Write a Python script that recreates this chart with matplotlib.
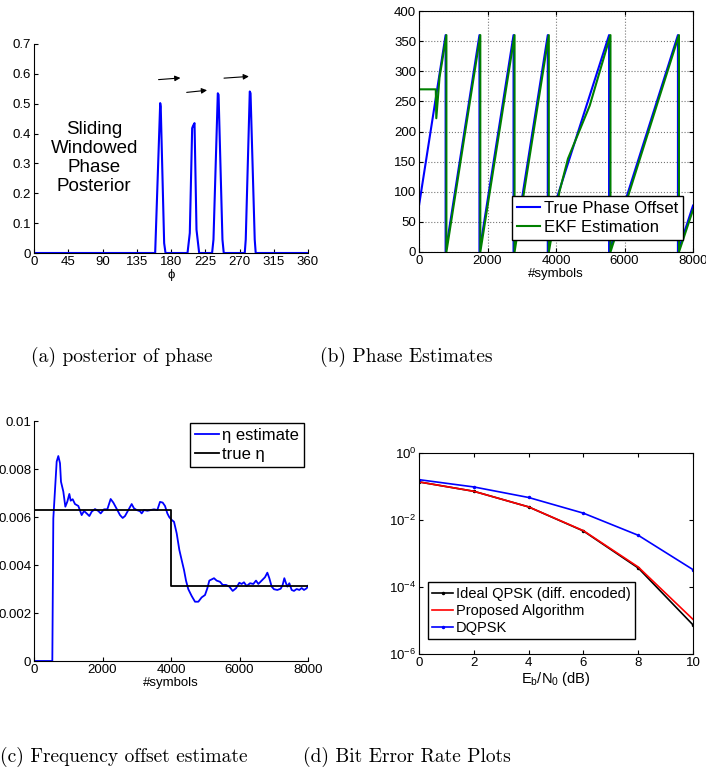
import matplotlib
matplotlib.use('Agg')
import matplotlib.pyplot as plt
from matplotlib.ticker import FormatStrFormatter, LogLocator, NullLocator

plt.rcParams['font.family'] = ['Liberation Sans', 'DejaVu Sans']
plt.rcParams['mathtext.fontset'] = 'custom'
plt.rcParams['mathtext.rm'] = 'Liberation Sans'
plt.rcParams['mathtext.default'] = 'regular'
plt.rcParams['xtick.direction'] = 'in'
plt.rcParams['ytick.direction'] = 'in'
plt.rcParams['xtick.major.size'] = 3
plt.rcParams['ytick.major.size'] = 3
plt.rcParams['axes.linewidth'] = 0.8

# (a) sliding windowed phase posterior
phi = [0, 159.2, 165.8, 166.5, 171, 172.8,
       201.7, 204.7, 207.8, 209, 210.9, 213.5, 217,
       234, 235.8, 241.5, 242.5, 247.6, 249.3,
       276.9, 278.2, 283.5, 284.5, 290, 291.3, 360]
posterior = [0, 0, 0.502, 0.49, 0.033, 0,
             0, 0.067, 0.418, 0.426, 0.435, 0.078, 0,
             0, 0.045, 0.535, 0.53, 0.045, 0,
             0, 0.045, 0.541, 0.535, 0.045, 0, 0]
arrow_tails = [(160, 0.580), (197, 0.537), (246, 0.585)]
arrow_heads = [(196, 0.587), (231, 0.546), (286, 0.592)]

# (b) true phase vs EKF phase estimate
sym_true = [0, 777, 777, 1765, 1765, 2760, 2760, 3760, 3760, 4000, 5550, 5550, 7560, 7560, 8000]
phase_true = [77, 360, 0, 360, 0, 360, 0, 360, 0, 85, 360, 0, 360, 0, 77]
sym_ekf = [0, 490, 505, 600, 800, 800, 1790, 1790, 2790, 2790, 3790, 3790,
           4100, 4350, 4985, 5590, 5590, 7590, 7590, 8000]
phase_ekf = [270, 270, 222, 290, 360, 0, 360, 0, 360, 0, 360, 0,
             100, 155, 243, 360, 0, 360, 0, 70]

# (c) frequency offset estimate
sym_eta = [0, 535, 564, 662, 710, 759, 788, 856, 915, 973, 1032, 1071, 1129, 1197,
           1294, 1392, 1460, 1538, 1616, 1684, 1781, 1878, 1947, 2044, 2141, 2238,
           2316, 2433, 2511, 2589, 2657, 2754, 2852, 2920, 2998, 3095, 3144, 3212,
           3309, 3407, 3504, 3601, 3679, 3757, 3825, 3893, 3951, 4019, 4088, 4166,
           4243, 4311, 4380, 4438, 4506, 4603, 4701, 4798, 4895, 4993, 5061, 5119,
           5187, 5256, 5333, 5431, 5509, 5606, 5703, 5801, 5898, 5995, 6063, 6131,
           6209, 6307, 6404, 6482, 6550, 6647, 6744, 6813, 6871, 6939, 7007, 7105,
           7202, 7260, 7309, 7358, 7397, 7455, 7523, 7591, 7669, 7747, 7815, 7883,
           7961, 8000]
eta_est = [0, 0, 0.00594, 0.00831, 0.00854, 0.00824, 0.00747, 0.00706, 0.00643,
           0.00664, 0.00696, 0.00668, 0.00674, 0.00654, 0.00646, 0.00608, 0.00625,
           0.00615, 0.00604, 0.00622, 0.00633, 0.00625, 0.00615, 0.00632, 0.00632,
           0.00675, 0.0066, 0.00629, 0.00608, 0.00596, 0.00604, 0.00629, 0.00654,
           0.00636, 0.00629, 0.00624, 0.00615, 0.00629, 0.00626, 0.00629, 0.00632,
           0.00629, 0.00663, 0.0066, 0.00646, 0.00615, 0.00599, 0.00588, 0.0058,
           0.00532, 0.00463, 0.00421, 0.00379, 0.00335, 0.00299, 0.00271, 0.00247,
           0.00247, 0.00265, 0.00275, 0.00303, 0.00335, 0.0034, 0.00345, 0.00335,
           0.0033, 0.00317, 0.00317, 0.0031, 0.00292, 0.00303, 0.00326, 0.00321,
           0.00328, 0.00312, 0.00324, 0.00321, 0.00335, 0.00321, 0.00335, 0.00349,
           0.00368, 0.00345, 0.0031, 0.00299, 0.00296, 0.00301, 0.00317, 0.00345,
           0.00324, 0.0031, 0.00324, 0.00296, 0.00292, 0.003, 0.00296, 0.00304,
           0.00296, 0.00303, 0.00313]
sym_eta_true = [0, 4000, 4000, 8000]
eta_true = [0.0063, 0.0063, 0.00313, 0.00313]

# (d) bit error rates
ebn0 = [0, 2, 4, 6, 8, 10]
ber_ideal = [0.137, 0.072, 0.0246, 0.0047, 3.7e-4, 7.4e-6]
ber_proposed = [0.137, 0.072, 0.0246, 0.0048, 3.96e-4, 1.08e-5]
ber_dqpsk = [0.16, 0.097, 0.047, 0.016, 3.5e-3, 3.3e-4]

W, H = 706, 781
fig = plt.figure(figsize=(W / 100, H / 100), dpi=100)


def box(x0, y0, x1, y1):
    return [x0 / W, 1 - y1 / H, (x1 - x0) / W, (y1 - y0) / H]


tick_fs = 9.5

# ---- (a)
ax = fig.add_axes(box(34, 44, 308, 253))
ax.plot(phi, posterior, color='#0000ff', lw=1.5)
for t, h in zip(arrow_tails, arrow_heads):
    ax.annotate('', xy=h, xytext=t,
                arrowprops=dict(arrowstyle='-|>', color='k', lw=0.8, mutation_scale=8))
ax.text(79, 0.318, 'Sliding\nWindowed\nPhase\nPosterior', ha='center', va='center',
        fontsize=13.5, linespacing=1.15)
ax.set_xlim(0, 360)
ax.set_ylim(0, 0.7)
ax.set_xticks(range(0, 361, 45))
ax.set_yticks([0, 0.1, 0.2, 0.3, 0.4, 0.5, 0.6, 0.7])
ax.yaxis.set_major_formatter(FormatStrFormatter('%g'))
ax.spines['top'].set_visible(False)
ax.spines['right'].set_visible(False)
ax.tick_params(labelsize=tick_fs, pad=2)
ax.set_xlabel('ϕ', fontsize=tick_fs, labelpad=1)

# ---- (b)
ax = fig.add_axes(box(419, 11, 693, 252))
ax.plot(sym_true, phase_true, color='#0000ff', lw=1.5, label='True Phase Offset')
ax.plot(sym_ekf, phase_ekf, color='#008000', lw=1.5, label='EKF Estimation')
ax.set_xlim(0, 8000)
ax.set_ylim(0, 400)
ax.set_xticks(range(0, 8001, 2000))
ax.set_yticks(range(0, 401, 50))
ax.grid(True, linestyle=':', color='#777777', lw=0.8)
ax.tick_params(labelsize=tick_fs, pad=2, top=True, right=True)
ax.set_xlabel('#symbols', fontsize=tick_fs, labelpad=1)
leg = ax.legend(loc='lower right', bbox_to_anchor=(1 - 10 / 274, 12 / 241), borderaxespad=0,
                fontsize=12, fancybox=False, framealpha=1, edgecolor='k',
                handlelength=1.4, handletextpad=0.2, labelspacing=0.25, borderpad=0.3)
leg.get_frame().set_linewidth(1.0)

# ---- (c)
ax = fig.add_axes(box(34, 421, 308, 661))
ax.plot(sym_eta, eta_est, color='#0000ff', lw=1.3, label='η estimate')
ax.plot(sym_eta_true, eta_true, color='k', lw=1.3, label='true η')
ax.set_xlim(0, 8000)
ax.set_ylim(0, 0.01)
ax.set_xticks(range(0, 8001, 2000))
ax.set_yticks([0, 0.002, 0.004, 0.006, 0.008, 0.01])
ax.yaxis.set_major_formatter(FormatStrFormatter('%g'))
ax.spines['top'].set_visible(False)
ax.spines['right'].set_visible(False)
ax.tick_params(labelsize=tick_fs, pad=2)
ax.set_xlabel('#symbols', fontsize=tick_fs, labelpad=1)
leg = ax.legend(loc='upper right', bbox_to_anchor=(1 - 4 / 274, 1 - 2 / 240), borderaxespad=0,
                fontsize=12, fancybox=False, framealpha=1, edgecolor='k',
                handlelength=1.4, handletextpad=0.2, labelspacing=0.25, borderpad=0.3)
leg.get_frame().set_linewidth(1.0)

# ---- (d)
ax = fig.add_axes(box(419, 453, 693, 654))
ax.semilogy(ebn0, ber_ideal, color='k', lw=1.2, marker='.', ms=3, label='Ideal QPSK (diff. encoded)')
ax.semilogy(ebn0, ber_proposed, color='#ff0000', lw=1.2, label='Proposed Algorithm')
ax.semilogy(ebn0, ber_dqpsk, color='#0000ff', lw=1.2, marker='.', ms=3, label='DQPSK')
ax.set_xlim(0, 10)
ax.set_ylim(1e-6, 1)
ax.set_xticks(range(0, 11, 2))
ax.yaxis.set_major_locator(LogLocator(base=100))
ax.yaxis.set_minor_locator(NullLocator())
ax.tick_params(labelsize=tick_fs, pad=2, top=True, right=True)
ax.set_xlabel(r'E$_b$/N$_0$ (dB)', fontsize=tick_fs + 1, labelpad=1)
leg = ax.legend(loc='lower left', bbox_to_anchor=(9 / 274, 15 / 201), borderaxespad=0,
                fontsize=10.5, fancybox=False, framealpha=1, edgecolor='k',
                handlelength=1.4, handletextpad=0.2, labelspacing=0.2, borderpad=0.3)
leg.get_frame().set_linewidth(1.0)

# subfigure captions
cap = dict(fontsize=14, family='cmr10', ha='center', va='baseline')
fig.text(121.5 / W, 1 - 362 / H, '(a) posterior of phase', **cap)
fig.text(406.7 / W, 1 - 362 / H, '(b) Phase Estimates', **cap)
fig.text(124 / W, 1 - 762 / H, '(c) Frequency offset estimate', **cap)
fig.text(406.7 / W, 1 - 762 / H, '(d) Bit Error Rate Plots', **cap)

fig.savefig('out.png', dpi=100)
